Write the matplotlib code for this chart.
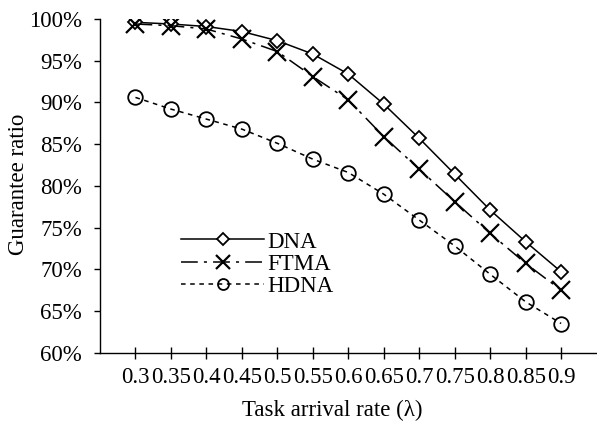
import numpy as np
import matplotlib
matplotlib.use("Agg")
import matplotlib.pyplot as plt
from matplotlib.ticker import FuncFormatter

# task arrival rate categories and guarantee ratios (%)
rates = ["0.3", "0.35", "0.4", "0.45", "0.5", "0.55", "0.6",
         "0.65", "0.7", "0.75", "0.8", "0.85", "0.9"]
dna = [99.6, 99.4, 99.1, 98.5, 97.4, 95.8, 93.4, 89.8, 85.7, 81.4, 77.1, 73.3, 69.7]
ftma = [99.4, 99.2, 98.8, 97.6, 96.1, 93.1, 90.3, 85.9, 82.0, 78.1, 74.3, 70.7, 67.5]
hdna = [90.6, 89.2, 88.0, 86.8, 85.1, 83.2, 81.6, 79.0, 75.9, 72.8, 69.4, 66.1, 63.5]

plt.rcParams['font.family'] = ['Liberation Serif', 'DejaVu Serif']
plt.rcParams['font.size'] = 16.5

fig = plt.figure(figsize=(5.97, 4.26), dpi=100)
ax = fig.add_axes([100 / 597, 1 - 352.7 / 426, 496.6 / 597, 333.7 / 426])

x = np.arange(len(rates))

ax.plot(x, dna, color='black', lw=1.1, marker='D', markersize=7.5,
        markerfacecolor='white', markeredgewidth=1.3, label='DNA')
ax.plot(x, ftma, color='black', lw=1.1, marker='x', markersize=13,
        markeredgewidth=1.6, dashes=(11, 4, 2, 4), label='FTMA')
ax.plot(x, hdna, color='black', lw=1.1, marker='o', markersize=10.5,
        fillstyle='none', markeredgewidth=1.3, dashes=(3, 3), label='HDNA')

ax.set_xlim(-1, len(rates))
ax.set_ylim(60, 100)
ax.set_xticks(x)
ax.set_xticklabels(rates)
ax.set_yticks(np.arange(60, 101, 5))
ax.yaxis.set_major_formatter(FuncFormatter(lambda v, p: "%d%%" % v))

ax.spines['top'].set_visible(False)
ax.spines['right'].set_visible(False)
ax.spines['left'].set_linewidth(1.0)
ax.spines['bottom'].set_linewidth(1.0)
ax.tick_params(axis='x', direction='inout', length=8.5, width=1.0, pad=6)
ax.tick_params(axis='y', direction='out', length=4, width=1.0, pad=9)

ax.set_xlabel("Task arrival rate (λ)", va='center')
ax.xaxis.set_label_coords((332.5 - 100) / 496.6, (352.7 - 410) / 333.7)
ax.set_ylabel("Guarantee ratio", va='center')
ax.yaxis.set_label_coords((18 - 100) / 496.6, (352.7 - 184) / 333.7)

leg = ax.legend(loc='upper left', bbox_to_anchor=(170 / 597, 1 - 220 / 426),
                bbox_transform=fig.transFigure, frameon=False, borderpad=0,
                handlelength=3.6, handletextpad=0.15, labelspacing=0.05,
                markerscale=0.75)

fig.savefig("out.png", dpi=100)
